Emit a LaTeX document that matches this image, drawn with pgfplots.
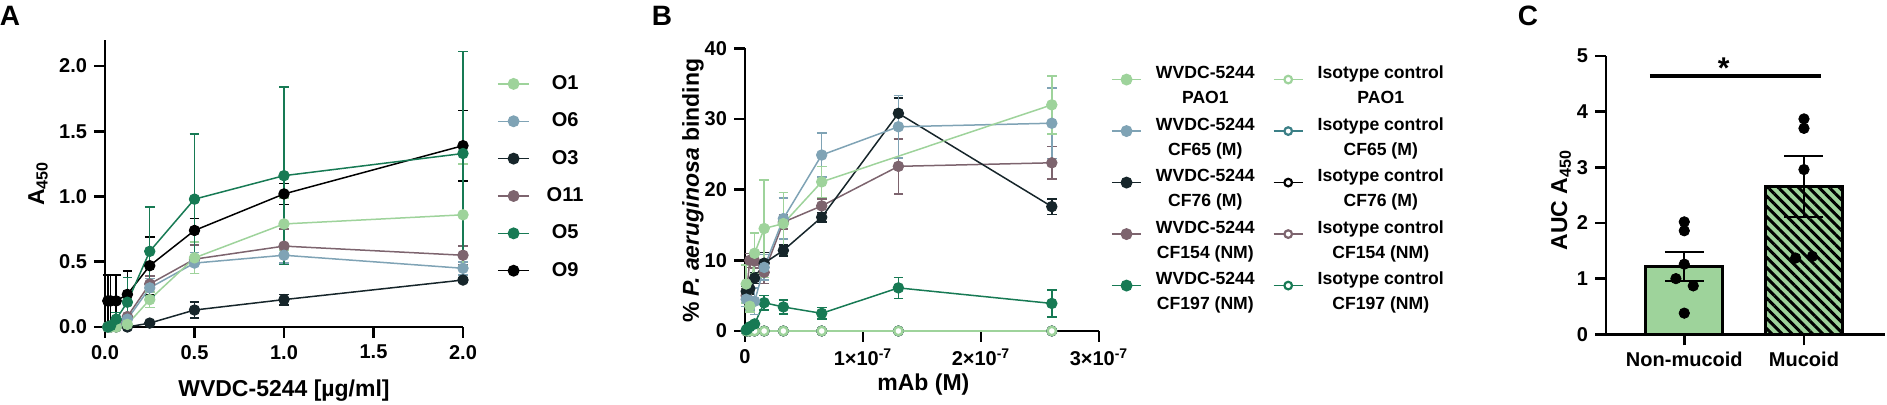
\documentclass[border=0pt]{standalone}
\usepackage{fontspec}
\setmainfont{Liberation Sans}
\usepackage{pgfplots}
\pgfplotsset{compat=1.18}
\usetikzlibrary{patterns.meta}

\definecolor{lgreen}{HTML}{9ED39B}
\definecolor{bgrey}{HTML}{7FA3B5}
\definecolor{dslate}{HTML}{16252A}
\definecolor{mauve}{HTML}{7D646E}
\definecolor{dgreen}{HTML}{177A54}
\definecolor{iteal}{HTML}{3B7F86}

\newcommand{\lgt}[2]{\ensuremath{\vcenter{\offinterlineskip\halign{\hfil##\hfil\cr\rule[-2pt]{0pt}{9pt}#1\cr\rule[-2.5pt]{0pt}{13pt}#2\cr}}}}

\pgfplotsset{
  base/.style={scale only axis, axis lines=left,
    axis line style={-, line width=1.35pt, black},
    tick style={line width=1.35pt, black}, major tick length=5.5pt,
    tick align=outside, clip=false,
    tick label style={font=\fontsize{10}{12}\selectfont\bfseries},
    label style={font=\fontsize{11.5}{13.8}\selectfont\bfseries},
    /pgf/number format/assume math mode=true,
    legend style={draw=none, fill=none, inner sep=0pt}},
  ser/.style={color=#1, mark=*, line width=0.75pt, mark size=2.6pt,
    mark options={solid, fill=#1, draw=#1, line width=0.5pt},
    error bars/y dir=both, error bars/y explicit,
    error bars/error bar style={line width=0.75pt, color=#1},
    error bars/error mark options={rotate=90, mark size=2.4pt, line width=0.75pt, color=#1}},
  iso/.style={color=#1, mark=*, line width=0.75pt, mark size=2.1pt,
    mark options={solid, fill=white, draw=#1, line width=1.2pt}},
  limg/.style={color=#1, mark=*, line width=0.75pt, mark size=2.6pt,
    mark options={solid, fill=#1, draw=#1}},
  iimg/.style={color=#1, mark=*, line width=0.75pt, mark size=1.9pt,
    mark options={solid, fill=white, draw=#1, line width=1.1pt}},
}

\begin{document}
\begin{tikzpicture}
\path[use as bounding box] (0,0) rectangle (943.5pt,-202.5pt);

\node[font=\fontsize{14}{14}\selectfont\bfseries] at (5pt,-8pt) {A};
\node[font=\fontsize{14}{14}\selectfont\bfseries] at (331pt,-8pt) {B};
\node[font=\fontsize{14}{14}\selectfont\bfseries] at (764pt,-8pt) {C};

% ---------------- Panel A ----------------
\begin{axis}[base, at={(52.5pt,-163.5pt)}, anchor=south west,
  width=179pt, height=143.5pt,
  xmin=0, xmax=2, ymin=0, ymax=2.2,
  xtick={0,0.5,1,1.5,2}, xticklabels={0.0,0.5,1.0,1.5,2.0},
  ytick={0,0.5,1,1.5,2}, yticklabels={0.0,0.5,1.0,1.5,2.0},
  xlabel={WVDC-5244 [µg/ml]}, ylabel={A\textsubscript{450}},
  xlabel style={at={(axis description cs:0.5,-0.22)}, anchor=center},
  ylabel style={at={(axis description cs:-0.187,0.5)}, anchor=center},
  legend style={at={(axis description cs:1.094,0.878)}, anchor=north west,
    font=\fontsize{10}{12}\selectfont\bfseries, row sep=10.2pt, column sep=8.3pt,
    nodes={inner sep=0pt}},
  legend image code/.code={\draw[mark repeat=2,mark phase=2,#1] plot coordinates {(0pt,0pt) (7.9pt,0pt) (15.8pt,0pt)};},
]
% O9
\addplot[forget plot, ser=black] coordinates {
 (0.015625,0.20) +- (0,0.20) (0.03125,0.20) +- (0,0.20) (0.0625,0.20) +- (0,0.20)
 (0.125,0.25) +- (0,0.18) (0.25,0.47) +- (0,0.22) (0.5,0.74) +- (0,0.09)
 (1,1.02) +- (0,0.08) (2,1.39) +- (0,0.27)};
% O3
\addplot[forget plot, ser=dslate] coordinates {
 (0.015625,0) +- (0,0) (0.03125,0) +- (0,0) (0.0625,0) +- (0,0)
 (0.125,0) +- (0,0) (0.25,0.03) +- (0,0.01) (0.5,0.13) +- (0,0.06)
 (1,0.21) +- (0,0.04) (2,0.36) +- (0,0.02)};
% O11
\addplot[forget plot, ser=mauve] coordinates {
 (0.015625,0) +- (0,0) (0.03125,0) +- (0,0) (0.0625,0.02) +- (0,0.02)
 (0.125,0.08) +- (0,0.10) (0.25,0.33) +- (0,0.06) (0.5,0.52) +- (0,0.11)
 (1,0.62) +- (0,0.13) (2,0.55) +- (0,0.07)};
% O6
\addplot[forget plot, ser=bgrey] coordinates {
 (0.015625,0) +- (0,0) (0.03125,0) +- (0,0) (0.0625,0.01) +- (0,0.01)
 (0.125,0.06) +- (0,0.03) (0.25,0.30) +- (0,0.07) (0.5,0.49) +- (0,0.08)
 (1,0.55) +- (0,0.06) (2,0.45) +- (0,0.05)};
% O1
\addplot[forget plot, ser=lgreen] coordinates {
 (0.015625,0) +- (0,0) (0.03125,0) +- (0,0) (0.0625,0) +- (0,0)
 (0.125,0.02) +- (0,0.02) (0.25,0.21) +- (0,0.06) (0.5,0.53) +- (0,0.12)
 (1,0.79) +- (0,0.20) (2,0.86) +- (0,0.39)};
% O5
\addplot[forget plot, ser=dgreen] coordinates {
 (0.015625,0) +- (0,0) (0.03125,0.01) +- (0,0.01) (0.0625,0.06) +- (0,0.05)
 (0.125,0.19) +- (0,0.19) (0.25,0.58) +- (0,0.34) (0.5,0.98) +- (0,0.50)
 (1,1.16) +- (0,0.68) (2,1.33) +- (0,0.78)};
\addlegendimage{limg=lgreen}\addlegendentry{O1}
\addlegendimage{limg=bgrey}\addlegendentry{O6}
\addlegendimage{limg=dslate}\addlegendentry{O3}
\addlegendimage{limg=mauve}\addlegendentry{O11}
\addlegendimage{limg=dgreen}\addlegendentry{O5}
\addlegendimage{limg=black}\addlegendentry{O9}
\end{axis}

% ---------------- Panel B ----------------
\begin{axis}[base, at={(372.5pt,-165.5pt)}, anchor=south west,
  width=177pt, height=141.35pt,
  xmin=0, xmax=3, ymin=0, ymax=40,
  xtick={0,1,2,3}, xticklabels={0,1×10\textsuperscript{-7},2×10\textsuperscript{-7},3×10\textsuperscript{-7}},
  ytick={0,10,20,30,40},
  xlabel={mAb (M)}, ylabel={\% \textit{P. aeruginosa} binding},
  xlabel style={at={(axis description cs:0.504,-0.191)}, anchor=center},
  ylabel style={at={(axis description cs:-0.147,0.496)}, anchor=center},
  legend columns=2,
  legend cell align=center,
  legend style={at={(axis description cs:1.033,0.943)}, anchor=north west,
    font=\fontsize{8.8}{10.5}\selectfont\bfseries, row sep=11pt, column sep=0pt,
    nodes={inner sep=0pt},
    /tikz/every odd column/.append style={column sep=7pt},
    /tikz/every even column/.append style={column sep=9pt}},
  legend image code/.code={\draw[mark repeat=2,mark phase=2,#1] plot coordinates {(0pt,0pt) (7.35pt,0pt) (14.7pt,0pt)};},
]
% isotype controls
\addplot[forget plot, iso=dgreen] coordinates {(0.0102,0) (0.0203,0) (0.0406,0) (0.08125,0) (0.1625,0) (0.325,0) (0.65,0) (1.3,0) (2.6,0)};
\addplot[forget plot, iso=mauve] coordinates {(0.0102,0) (0.0203,0) (0.0406,0) (0.08125,0) (0.1625,0) (0.325,0) (0.65,0) (1.3,0) (2.6,0)};
\addplot[forget plot, iso=black] coordinates {(0.0102,0) (0.0203,0) (0.0406,0) (0.08125,0) (0.1625,0) (0.325,0) (0.65,0) (1.3,0) (2.6,0)};
\addplot[forget plot, iso=iteal] coordinates {(0.0102,0) (0.0203,0) (0.0406,0) (0.08125,0) (0.1625,0) (0.325,0) (0.65,0) (1.3,0) (2.6,0)};
\addplot[forget plot, iso=lgreen] coordinates {(0.0102,0) (0.0203,0) (0.0406,0) (0.08125,0) (0.1625,0) (0.325,0) (0.65,0) (1.3,0) (2.6,0)};
% CF197
\addplot[forget plot, ser=dgreen] coordinates {
 (0.0102,0.15) +- (0,0.1) (0.0203,0.3) +- (0,0.1) (0.0406,0.6) +- (0,0.2)
 (0.08125,1.0) +- (0,0.3) (0.1625,4.0) +- (0,1.0) (0.325,3.4) +- (0,1.0)
 (0.65,2.5) +- (0,0.8) (1.3,6.1) +- (0,1.5) (2.6,3.9) +- (0,1.9)};
% CF154
\addplot[forget plot, ser=mauve] coordinates {
 (0.0102,5.0) +- (0,1.0) (0.0406,10.0) +- (0,1.0) (0.08125,9.9) +- (0,1.0)
 (0.1625,8.3) +- (0,1.6) (0.325,15.4) +- (0,1.0) (0.65,17.7) +- (0,1.0)
 (1.3,23.3) +- (0,3.9) (2.6,23.8) +- (0,2.3)};
% CF76
\addplot[forget plot, ser=dslate] coordinates {
 (0.0102,5.6) +- (0,0.8) (0.0406,6.0) +- (0,0.8) (0.08125,7.5) +- (0,0.8)
 (0.1625,9.6) +- (0,1.5) (0.325,11.4) +- (0,0.8) (0.65,16.1) +- (0,0.7)
 (1.3,30.8) +- (0,2.2) (2.6,17.6) +- (0,1.1)};
% CF65
\addplot[forget plot, ser=bgrey] coordinates {
 (0.0102,4.5) +- (0,1.0) (0.0406,4.3) +- (0,1.5) (0.08125,4.2) +- (0,1.9)
 (0.1625,9.0) +- (0,1.8) (0.325,15.9) +- (0,2.9) (0.65,24.9) +- (0,3.1)
 (1.3,28.9) +- (0,4.4) (2.6,29.4) +- (0,5.0)};
% PAO1
\addplot[forget plot, ser=lgreen] coordinates {
 (0.0102,6.65) +- (0,2.7) (0.0406,3.5) +- (0,0.8) (0.08125,11.0) +- (0,2.9)
 (0.1625,14.5) +- (0,6.9) (0.325,15.2) +- (0,4.4) (0.65,21.1) +- (0,2.2)
 (2.6,32.0) +- (0,4.1)};
\addlegendimage{limg=lgreen}\addlegendentry{\lgt{WVDC-5244}{PAO1}}
\addlegendimage{iimg=lgreen}\addlegendentry{\lgt{Isotype control}{PAO1}}
\addlegendimage{limg=bgrey}\addlegendentry{\lgt{WVDC-5244}{CF65 (M)}}
\addlegendimage{iimg=iteal}\addlegendentry{\lgt{Isotype control}{CF65 (M)}}
\addlegendimage{limg=dslate}\addlegendentry{\lgt{WVDC-5244}{CF76 (M)}}
\addlegendimage{iimg=black}\addlegendentry{\lgt{Isotype control}{CF76 (M)}}
\addlegendimage{limg=mauve}\addlegendentry{\lgt{WVDC-5244}{CF154 (NM)}}
\addlegendimage{iimg=mauve}\addlegendentry{\lgt{Isotype control}{CF154 (NM)}}
\addlegendimage{limg=dgreen}\addlegendentry{\lgt{WVDC-5244}{CF197 (NM)}}
\addlegendimage{iimg=dgreen}\addlegendentry{\lgt{Isotype control}{CF197 (NM)}}
\end{axis}

% ---------------- Panel C ----------------
\begin{axis}[base, at={(803pt,-167.15pt)}, anchor=south west,
  width=139.5pt, height=139.15pt,
  xmin=-0.654, xmax=1.677, ymin=0, ymax=5,
  xtick={0,1}, xticklabels={Non-mucoid,Mucoid},
  ytick={0,1,2,3,4,5},
  ylabel={AUC A\textsubscript{450}},
  ylabel style={at={(axis description cs:-0.161,0.483)}, anchor=center},
]
\addplot[ybar, bar width=38.5pt, bar shift=0pt, fill=lgreen, draw=black, line width=1.4pt,
  error bars/y dir=both, error bars/y explicit,
  error bars/error bar style={line width=1pt, black},
  error bars/error mark options={rotate=90, mark size=9.75pt, line width=1pt, black}]
  coordinates {(0,1.22) +- (0,0.26)};
\addplot[ybar, bar width=38.5pt, bar shift=0pt, fill=lgreen, draw=black, line width=1.4pt,
  postaction={pattern={Lines[angle=-45,distance=3.6pt,line width=1.5pt]}, pattern color=black},
  error bars/y dir=both, error bars/y explicit,
  error bars/error bar style={line width=1pt, black},
  error bars/error mark options={rotate=90, mark size=9.75pt, line width=1pt, black}]
  coordinates {(1,2.65) +- (0,0.55)};
\addplot[only marks, mark=*, black, mark size=2.6pt] coordinates {
 (0,2.02) (0,1.86) (0,1.26) (-0.07,1.0) (0.075,0.87) (0,0.38)
 (1,3.87) (1,3.70) (1,2.96) (0.93,1.37) (1.07,1.40)};
\addplot[black, line width=2pt, no marks] coordinates {(-0.287,4.64) (1.14,4.64)};
\node[font=\fontsize{15}{15}\selectfont\bfseries, anchor=base] at (axis cs:0.33,4.59) {*};
\end{axis}
\end{tikzpicture}
\end{document}
